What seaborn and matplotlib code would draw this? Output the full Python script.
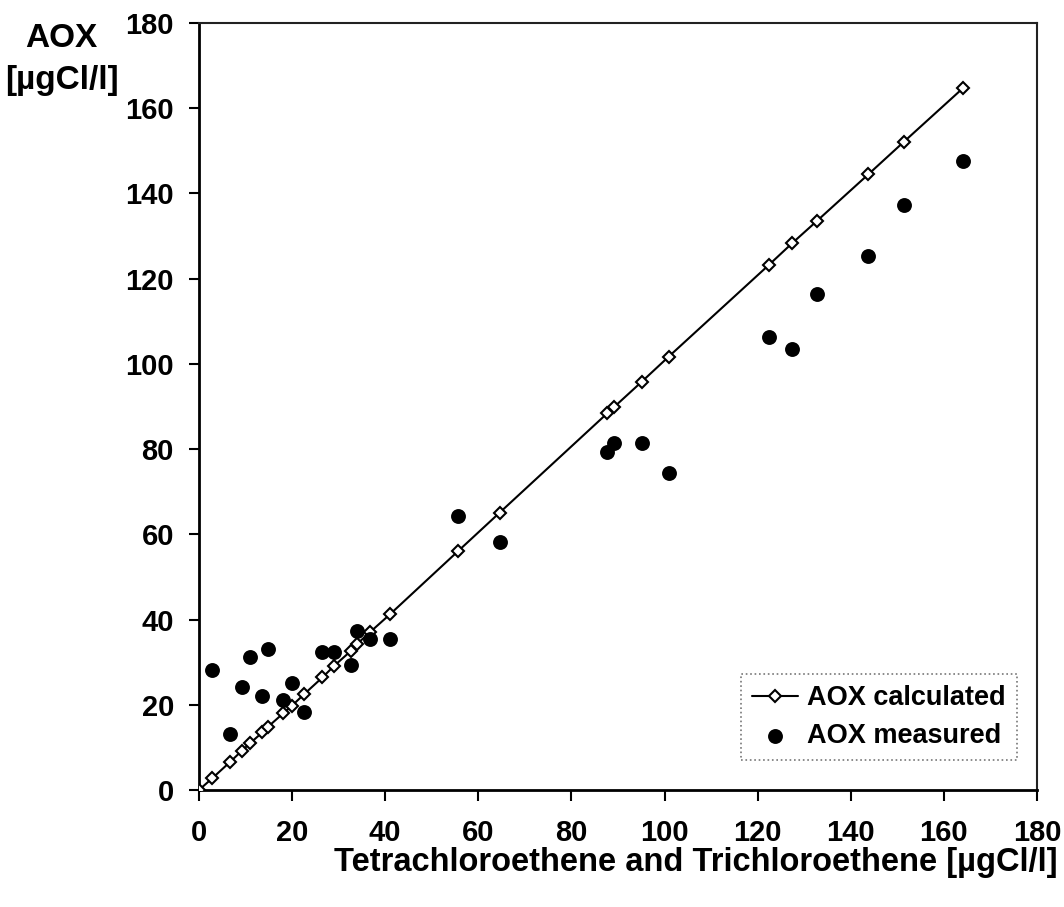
import matplotlib
matplotlib.use("Agg")
import matplotlib.pyplot as plt
import seaborn as sns
import pandas as pd

# Sum of tetrachloroethene and trichloroethene [µgCl/l]
x_values = [0.0, 2.8, 6.7, 9.2, 11.0, 13.6, 14.9, 18.1, 19.9, 22.6, 26.5, 29.1,
            32.6, 34.0, 36.7, 41.0, 55.7, 64.6, 87.7, 89.1, 95.1, 100.9,
            122.4, 127.4, 132.8, 143.8, 151.4, 164.1]
# AOX calculated [µgCl/l]
aox_calculated = [0.0, 2.7, 6.6, 9.2, 11.0, 13.5, 14.9, 18.0, 19.7, 22.5, 26.4, 29.2,
                  32.6, 34.3, 37.0, 41.2, 56.1, 65.1, 88.4, 89.8, 95.8, 101.7,
                  123.2, 128.3, 133.6, 144.5, 152.1, 164.7]
# AOX measured [µgCl/l] (no measurement at x = 0)
x_measured = x_values[1:]
aox_measured = [28.2, 13.1, 24.1, 31.1, 22.1, 33.2, 21.1, 25.2, 18.2, 32.3, 32.3,
                29.3, 37.4, 35.4, 35.4, 64.3, 58.3, 79.3, 81.4, 81.4, 74.3,
                106.4, 103.4, 116.3, 125.3, 137.3, 147.5]

x_ticks = list(range(0, 181, 20))
y_ticks = list(range(0, 181, 20))

calc_df = pd.DataFrame({"x": x_values, "y": aox_calculated})
meas_df = pd.DataFrame({"x": x_measured, "y": aox_measured})

sns.set_theme(style="white")
plt.rcParams["font.family"] = ["Liberation Sans", "DejaVu Sans"]
plt.rcParams["font.weight"] = "bold"
plt.rcParams["text.color"] = "black"
plt.rcParams["xtick.color"] = "black"
plt.rcParams["ytick.color"] = "black"

fig = plt.figure(figsize=(10.64, 9.07), dpi=100)
ax = fig.add_axes([0.187, 0.129, 0.7876, 0.8457])

sns.lineplot(data=calc_df, x="x", y="y", ax=ax, color="black", linewidth=1.5,
             marker="D", markersize=6, markerfacecolor="white",
             markeredgecolor="black", markeredgewidth=1.5,
             label="AOX calculated", zorder=3)
sns.scatterplot(data=meas_df, x="x", y="y", ax=ax, color="black", s=115,
                edgecolor="black", linewidth=0, label="AOX measured", zorder=4)

ax.set_xlim(0, 180)
ax.set_ylim(0, 180)
ax.set_xticks(x_ticks)
ax.set_yticks(y_ticks)
ax.set_xticklabels([str(t) for t in x_ticks], fontsize=21, fontweight="bold", color="black")
ax.set_yticklabels([str(t) for t in y_ticks], fontsize=21, fontweight="bold", color="black")
ax.tick_params(axis="x", direction="out", length=8, width=1.5, pad=13)
ax.tick_params(axis="y", direction="out", length=7, width=1.5, pad=11)
ax.tick_params(bottom=True, left=True)

for side in ["left", "bottom"]:
    ax.spines[side].set_linewidth(2.0)
    ax.spines[side].set_color("black")
for side in ["top", "right"]:
    ax.spines[side].set_linewidth(1.5)
    ax.spines[side].set_color("#222222")

ax.set_xlabel("")
ax.set_ylabel("")
fig.text(0.994, 0.040, "Tetrachloroethene and Trichloroethene [µgCl/l]",
         ha="right", va="baseline", fontsize=23.5, fontweight="bold", color="black")
fig.text(0.058, 0.958, "AOX", ha="center", va="center", fontsize=24,
         fontweight="bold", color="black")
fig.text(0.058, 0.911, "[µgCl/l]", ha="center", va="center", fontsize=24,
         fontweight="bold", color="black")

leg = ax.legend(loc="lower right", bbox_to_anchor=(0.976, 0.039), borderaxespad=0,
                frameon=True, fancybox=False, prop={"size": 19.5, "weight": "bold"},
                handlelength=1.7, handletextpad=0.35, borderpad=0.4, labelspacing=0.45)
for t in leg.get_texts():
    t.set_color("black")
frame = leg.get_frame()
frame.set_edgecolor("#555555")
frame.set_linestyle(":")
frame.set_linewidth(1.2)

fig.savefig("out.png", dpi=100)
